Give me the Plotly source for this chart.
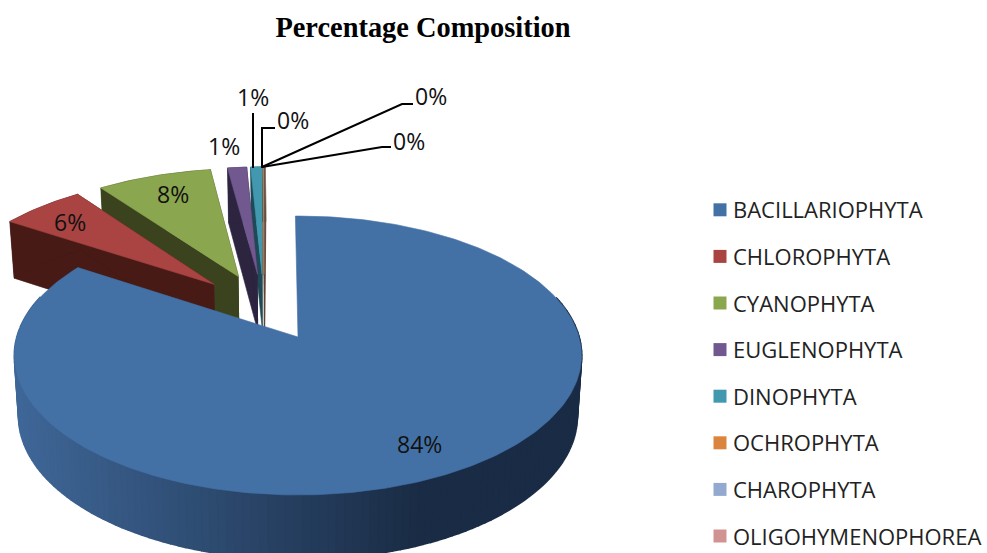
import numpy as np
import plotly.graph_objects as go

# ---- data ----
categories = ["BACILLARIOPHYTA", "CHLOROPHYTA", "CYANOPHYTA", "EUGLENOPHYTA",
              "DINOPHYTA", "OCHROPHYTA", "CHAROPHYTA", "OLIGOHYMENOPHOREA"]
values = [84.3, 5.72, 7.8, 1.3, 0.78, 0.04, 0.03, 0.03]
colors = ["#4371a6", "#a94442", "#8aa64e", "#71588f", "#4198af", "#db843d", "#93a9cf", "#d19392"]
dark_colors = ["#1a2d47", "#471a16", "#3a431d", "#2d2440", "#1d4a56", "#6b3f1c", "#47526a", "#664746"]

# ---- view of the tilted disc (pixels) ----
W, H = 987, 553
CX, CY, RX, RY, K = 298, 337, 281, 137, 0.1327
DEPTH, EXPLODE = 60, 0.26
ROTATION = np.radians(-0.6)
FONT = "Open Sans"


def project(u, v, drop=False):
    w = 1 + K * np.asarray(v)
    x = CX + RX * np.asarray(u) / w
    y = CY - RY * np.asarray(v) / w
    if drop:
        x = CX + (x - CX) * 0.985
        y = y + DEPTH / np.sqrt(w)
    return x, y


total = sum(values)
ends = np.cumsum(values) / total * 2 * np.pi + ROTATION
starts = np.concatenate([[ROTATION], ends[:-1]])
mids = (starts + ends) / 2
ou0, ov0 = np.sin(mids[0]), np.cos(mids[0])


def geometry(i):
    ou = EXPLODE * (np.sin(mids[i]) - ou0)
    ov = EXPLODE * (np.cos(mids[i]) - ov0)
    n = max(int((ends[i] - starts[i]) * 60), 4)
    t = np.linspace(starts[i], ends[i], n)
    return ou, ov, t, ou + np.sin(t), ov + np.cos(t)


fig = go.Figure()


def fill(xs, ys, color, name=None, lw=0.6):
    fig.add_trace(go.Scatter(x=xs, y=ys, mode="lines", fill="toself", fillcolor=color,
                             line=dict(color=color, width=lw), showlegend=False,
                             hoverinfo="skip" if name is None else "text",
                             text=name))


def lerp_rim(x):
    a, b = np.array([0x40, 0x68, 0x99]), np.array([0x1a, 0x2c, 0x45])
    f = np.clip((x - 15) / 405, 0, 1)
    c = a + (b - a) * f
    return "rgb(%d,%d,%d)" % tuple(c)


for i in [7, 6, 5, 4, 3, 2, 1, 0]:
    ou, ov, t, us, vs = geometry(i)
    ax, ay = project(ou, ov)
    bx, by = project(ou, ov, True)
    tx, ty = project(us, vs)
    dx, dy = project(us, vs, True)
    if i == 0:
        tt = np.linspace(starts[0], ends[0], 200)
        for a0, a1 in zip(tt[:-1], tt[1:]):
            if np.cos((a0 + a1) / 2) > 0.3:
                continue
            seg = np.array([a0, a1])
            x1, y1 = project(np.sin(seg), np.cos(seg))
            x2, y2 = project(np.sin(seg), np.cos(seg), True)
            xs = list(x1) + list(x2[::-1])
            ys = list(y1) + list(y2[::-1])
            fill(xs, ys, lerp_rim(np.mean(xs)), lw=2)
    else:
        for j in (0, -1):
            fill([float(ax), float(tx[j]), float(dx[j]), float(bx)],
                 [float(ay), float(ty[j]), float(dy[j]), float(by)], dark_colors[i])
        fill(list(tx) + list(dx[::-1]), list(ty) + list(dy[::-1]), dark_colors[i])
    fill([float(ax)] + list(tx) + [float(ax)], [float(ay)] + list(ty) + [float(ay)],
         colors[i], f"{categories[i]}: {values[i]}")

# legend entries
for name, c in zip(categories, colors):
    fig.add_trace(go.Scatter(x=[None], y=[None], mode="markers", name=name, legendgroup=name,
                             marker=dict(symbol="square", size=13, color=c)))

# leader lines
leaders = [[(253, 168), (253, 113)],
           [(262, 168), (262, 128), (275, 128)],
           [(262, 167), (402, 104), (413, 104)],
           [(262, 167), (382, 147), (391, 147)]]
lx, ly = [], []
for path in leaders:
    lx += [p[0] for p in path] + [None]
    ly += [p[1] for p in path] + [None]
fig.add_trace(go.Scatter(x=lx, y=ly, mode="lines", line=dict(color="black", width=2),
                         showlegend=False, hoverinfo="skip"))

# percentage labels
label_pos = [(419, 444), (70, 222), (173, 194), (224, 146), (253, 97), (293, 120), (431, 96), (409, 141)]
for v, (x, y) in zip(values, label_pos):
    fig.add_annotation(x=x, y=y, text=f"{round(v / total * 100)}%", showarrow=False,
                       font=dict(family=FONT, size=23, color="#111111"))

fig.update_layout(
    width=W, height=H, margin=dict(l=0, r=0, t=0, b=0, autoexpand=False),
    paper_bgcolor="white", plot_bgcolor="white",
    title=dict(text="<b>Percentage Composition</b>", x=423 / W, xanchor="center", y=1 - 27 / H, yanchor="middle",
               font=dict(family="Liberation Serif", size=28.4, color="black")),
    xaxis=dict(range=[0, W], visible=False, fixedrange=True),
    yaxis=dict(range=[H, 0], visible=False, fixedrange=True),
    legend=dict(x=693 / W, y=1 - 189 / H, xanchor="left", yanchor="top", tracegroupgap=15,
                bgcolor="rgba(0,0,0,0)", font=dict(family=FONT, size=22, color="#222222"),
                itemclick=False, itemdoubleclick=False),
    showlegend=True,
)
fig.write_html("out.html", config={"displayModeBar": False}, post_script=(
    "document.body.style.margin='0';"
    "document.querySelectorAll('.legendsymbols').forEach(function(g){"
    "g.setAttribute('transform','translate(7,0)');});"))
